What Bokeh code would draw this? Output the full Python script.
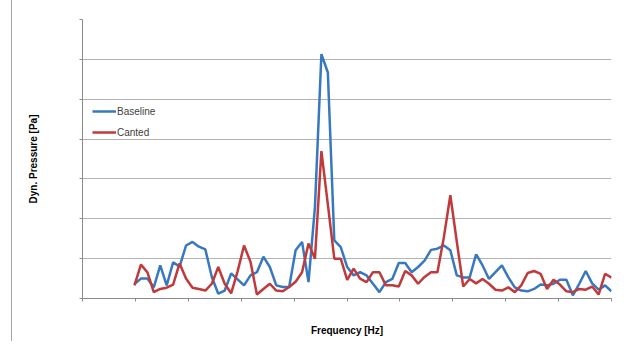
import math
from bokeh.plotting import figure
from bokeh.models import Range1d, Legend, LegendItem, BoxAnnotation, FixedTicker, CustomJSTickFormatter
from bokeh.embed import file_html
from bokeh.resources import INLINE

# Dynamic pressure spectra (arbitrary units, grid step = 1)
baseline = [0.36, 0.50, 0.50, 0.28, 0.83, 0.33, 0.91, 0.80, 1.33, 1.42,
            1.30, 1.23, 0.54, 0.12, 0.20, 0.63, 0.48, 0.33, 0.58, 0.66,
            1.05, 0.79, 0.33, 0.29, 0.29, 1.21, 1.42, 0.41, 2.30, 6.13,
            5.67, 1.46, 1.29, 0.79, 0.58, 0.66, 0.58, 0.37, 0.16, 0.41,
            0.49, 0.89, 0.89, 0.66, 0.79, 0.95, 1.22, 1.25, 1.33, 1.21,
            0.58, 0.53, 0.53, 1.11, 0.83, 0.49, 0.66, 0.83, 0.53, 0.28,
            0.20, 0.18, 0.24, 0.35, 0.33, 0.37, 0.47, 0.47, 0.08, 0.37,
            0.69, 0.38, 0.22, 0.33, 0.18]
canted = [0.33, 0.85, 0.66, 0.16, 0.24, 0.27, 0.35, 0.88, 0.50, 0.27,
          0.24, 0.20, 0.37, 0.79, 0.37, 0.13, 0.68, 1.33, 0.92, 0.10,
          0.24, 0.37, 0.20, 0.18, 0.29, 0.42, 0.66, 1.38, 1.00, 3.70,
          2.36, 1.00, 1.00, 0.47, 0.75, 0.50, 0.41, 0.66, 0.66, 0.33,
          0.33, 0.30, 0.69, 0.58, 0.37, 0.54, 0.66, 0.66, 1.54, 2.59,
          1.43, 0.30, 0.49, 0.38, 0.49, 0.37, 0.22, 0.20, 0.28, 0.16,
          0.33, 0.64, 0.69, 0.62, 0.24, 0.47, 0.35, 0.18, 0.16, 0.24,
          0.22, 0.30, 0.10, 0.62, 0.52]
freq_bin = list(range(len(baseline)))
series_names = ["Baseline", "Canted"]
x_title = "Frequency [Hz]"
y_title = "Dyn. Pressure [Pa]"

X0, X1 = -8.06, 74.0
Y0, Y1 = 0, 7
BLUE = "#3878c0"
RED = "#c0393b"

p = figure(width=611, height=341, output_backend="svg", toolbar_location=None,
           x_range=Range1d(X0, X1), y_range=Range1d(Y0, Y1),
           min_border_left=70, min_border_right=12, min_border_top=19, min_border_bottom=43)
p.styles = {"border-left": "1px solid #a6a6a6", "margin-left": "11px"}
p.outline_line_color = None
p.background_fill_color = "white"

xt = [X0 + k * (X1 - X0) / 10 for k in range(11)]
p.xaxis.ticker = FixedTicker(ticks=xt)
p.yaxis.ticker = FixedTicker(ticks=list(range(Y0, Y1 + 1)))
p.ygrid.ticker = FixedTicker(ticks=list(range(Y0, Y1 + 1)))
p.xgrid.grid_line_color = None
p.ygrid.grid_line_color = "#b4b4b4"
p.ygrid.grid_line_width = 1.2
for ax in (p.xaxis, p.yaxis):
    ax.axis_line_color = "#8c8c8c"
    ax.major_tick_line_color = "#8c8c8c"
    ax.major_tick_out = 3
    ax.major_tick_in = 0
    ax.minor_tick_line_color = None
    ax.formatter = CustomJSTickFormatter(code="return ''")
    ax.axis_label_text_font = "Liberation Sans"
    ax.axis_label_text_font_style = "bold"
    ax.axis_label_text_font_size = "10px"
    ax.axis_label_text_color = "#000000"
p.xaxis.axis_label = x_title
p.yaxis.axis_label = y_title
p.xaxis.axis_label_standoff = 23
p.yaxis.axis_label_standoff = 41

# blank area in top gridline
p.add_layout(BoxAnnotation(left=18.76, right=43.7, bottom=6.9, top=7.1,
                           fill_color="white", fill_alpha=1, line_color=None))

r1 = p.line(freq_bin, baseline, line_color=BLUE, line_width=2.5)
r2 = p.line(freq_bin, canted, line_color=RED, line_width=2.5)

legend = Legend(items=[LegendItem(label=series_names[0], renderers=[r1]),
                       LegendItem(label=series_names[1], renderers=[r2])],
                location=(10, 157), border_line_color=None, background_fill_alpha=0,
                padding=0, margin=0, glyph_width=24, glyph_height=18, label_height=18,
                spacing=3, label_standoff=1, label_text_font="Liberation Sans",
                label_text_font_size="10px", label_text_color="#404040")
p.add_layout(legend)

open("out.html", "w").write(file_html(p, INLINE))
